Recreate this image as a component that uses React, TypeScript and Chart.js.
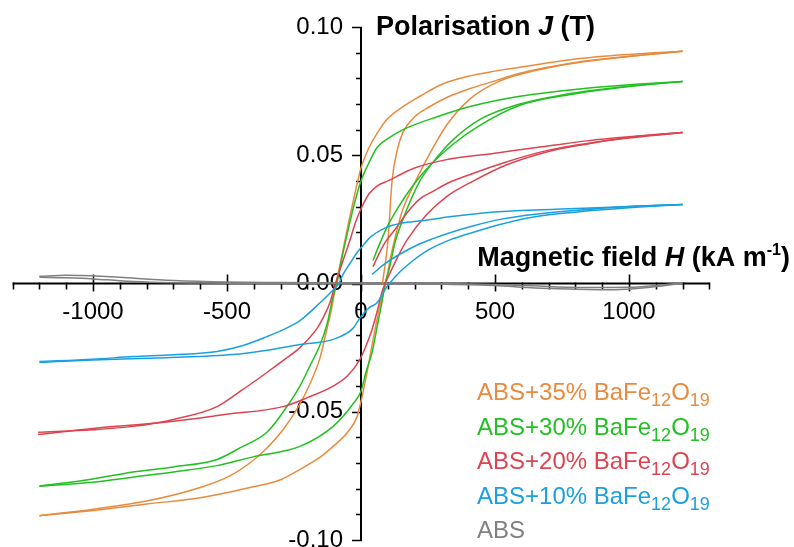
import React, { useEffect, useRef } from 'react';
import { Chart, registerables } from 'chart.js';

Chart.register(...registerables);

// ---- Axis ranges / ticks ----
const X_MIN = -1300;
const X_MAX = 1300;
const Y_MIN = -0.1;
const Y_MAX = 0.1;
const X_MINOR_STEP = 100;
const X_LABEL_STEP = 500;
const Y_MINOR_STEP = 0.01;
const Y_LABEL_STEP = 0.05;

// ---- Series colours ----
const COLORS = ['#E98B3F', '#22C022', '#DD4450', '#1AA0E0', '#808080'];

// ---- Legend labels: [text, isSubscript] runs ----
const LEGEND_35: [string, boolean][] = [['ABS+35% BaFe', false], ['12', true], ['O', false], ['19', true]];
const LEGEND_30: [string, boolean][] = [['ABS+30% BaFe', false], ['12', true], ['O', false], ['19', true]];
const LEGEND_20: [string, boolean][] = [['ABS+20% BaFe', false], ['12', true], ['O', false], ['19', true]];
const LEGEND_10: [string, boolean][] = [['ABS+10% BaFe', false], ['12', true], ['O', false], ['19', true]];
const LEGEND_ABS: [string, boolean][] = [['ABS', false]];

// ---- Data: [H (kA/m), J (T)] ----
// ABS + 35% BaFe12O19
const desc35: [number, number][] = [
  [1200, 0.0905], [1000, 0.0893], [800, 0.0875], [593, 0.0843], [500, 0.0828], [400, 0.0808], [300, 0.0776],
  [220, 0.073], [150, 0.0685], [97, 0.064], [60, 0.0585], [30, 0.053], [0, 0.045], [-25, 0.034], [-50, 0.022],
  [-75, 0.009], [-93, 0], [-110, -0.010], [-130, -0.019], [-153, -0.029], [-190, -0.039], [-228, -0.047],
  [-291, -0.057], [-350, -0.064], [-403, -0.069], [-489, -0.075], [-600, -0.0795], [-800, -0.0848],
  [-1000, -0.088], [-1200, -0.0905],
];
const asc35: [number, number][] = [
  [-1200, -0.0905], [-1000, -0.0885], [-800, -0.086], [-600, -0.0835], [-414, -0.0795], [-300, -0.0765],
  [-228, -0.0725], [-150, -0.0675], [-104, -0.0635], [-50, -0.058], [-15, -0.052], [0, -0.046], [20, -0.036],
  [45, -0.022], [70, -0.009], [92, 0], [110, 0.010], [130, 0.019], [153, 0.028], [190, 0.037], [228, 0.045],
  [280, 0.055], [321, 0.062], [407, 0.072], [519, 0.079], [650, 0.083], [800, 0.086], [1000, 0.0885],
  [1200, 0.0905],
];
const init35: [number, number][] = [
  [80, 0], [100, 0.016], [116, 0.040], [135, 0.052], [157, 0.059], [200, 0.065], [257, 0.069], [330, 0.073],
  [407, 0.076], [500, 0.079], [593, 0.082], [800, 0.0862], [1000, 0.0886], [1200, 0.0905],
];

// ABS + 30% BaFe12O19
const desc30: [number, number][] = [
  [1200, 0.0788], [1000, 0.0775], [850, 0.0762], [593, 0.073], [407, 0.069], [284, 0.065], [157, 0.060],
  [100, 0.0565], [60, 0.053], [34, 0.048], [0, 0.040], [-25, 0.031], [-50, 0.020], [-75, 0.008], [-90, 0],
  [-104, -0.005], [-127, -0.016], [-153, -0.024], [-190, -0.032], [-228, -0.040], [-290, -0.050],
  [-351, -0.058], [-450, -0.064], [-537, -0.0686], [-700, -0.0715], [-851, -0.0735], [-1000, -0.0762],
  [-1200, -0.079],
];
const asc30: [number, number][] = [
  [-1200, -0.079], [-1000, -0.0775], [-851, -0.0755], [-700, -0.0735], [-537, -0.071], [-400, -0.0675],
  [-228, -0.0635], [-104, -0.0557], [-30, -0.047], [0, -0.042], [20, -0.034], [41, -0.027], [60, -0.017],
  [82, -0.005], [90, 0], [104, 0.005], [127, 0.016], [160, 0.026], [220, 0.040], [290, 0.050], [343, 0.056],
  [444, 0.064], [593, 0.070], [750, 0.0735], [900, 0.0757], [1050, 0.0775], [1200, 0.0788],
];
const init30: [number, number][] = [
  [45, 0.009], [60, 0.013], [97, 0.022], [135, 0.029], [172, 0.035], [215, 0.041], [257, 0.046], [340, 0.054],
  [433, 0.061], [593, 0.0695], [800, 0.074], [1000, 0.0768], [1200, 0.0788],
];

// ABS + 20% BaFe12O19
const desc20: [number, number][] = [
  [1200, 0.0589], [1000, 0.0572], [850, 0.0557], [724, 0.054], [500, 0.0508], [306, 0.048], [200, 0.045],
  [157, 0.043], [100, 0.040], [60, 0.038], [30, 0.035], [4, 0.030], [-20, 0.024], [-41, 0.017], [-70, 0.008],
  [-95, 0], [-116, -0.0075], [-142, -0.0135], [-164, -0.0175], [-228, -0.025], [-290, -0.030], [-351, -0.0347],
  [-450, -0.042], [-537, -0.048], [-700, -0.053], [-851, -0.0557], [-1000, -0.057], [-1205, -0.058],
];
const asc20: [number, number][] = [
  [-1205, -0.0589], [-1000, -0.0565], [-724, -0.054], [-500, -0.051], [-291, -0.048], [-200, -0.0445],
  [-104, -0.040], [-50, -0.036], [-4, -0.0296], [20, -0.024], [41, -0.018], [60, -0.011], [78, -0.0035],
  [90, 0], [108, 0.004], [140, 0.011], [172, 0.017], [246, 0.027], [321, 0.034], [420, 0.040], [537, 0.046],
  [700, 0.0515], [851, 0.0545], [1000, 0.057], [1200, 0.0589],
];
const init20: [number, number][] = [
  [45, 0.0066], [60, 0.010], [90, 0.016], [134, 0.022], [175, 0.028], [220, 0.033], [270, 0.036],
  [321, 0.039], [420, 0.043], [530, 0.047], [700, 0.052], [900, 0.0555], [1200, 0.0589],
];

// ABS + 10% BaFe12O19
const desc10: [number, number][] = [
  [1200, 0.0308], [1000, 0.030], [724, 0.0289], [478, 0.0277], [332, 0.026], [228, 0.0245], [150, 0.0235],
  [97, 0.022], [34, 0.018], [4, 0.0144], [-15, 0.012], [-40, 0.008], [-70, 0.003], [-82, 0], [-104, -0.0025],
  [-153, -0.0075], [-228, -0.0145], [-290, -0.018], [-351, -0.0207], [-450, -0.0245], [-537, -0.0265],
  [-700, -0.0278], [-851, -0.0285], [-1000, -0.0295], [-1200, -0.0304],
];
const asc10: [number, number][] = [
  [-1200, -0.0308], [-1000, -0.0298], [-724, -0.0289], [-478, -0.0277], [-350, -0.026], [-228, -0.0238],
  [-104, -0.0218], [-30, -0.0175], [-4, -0.0135], [30, -0.0095], [60, -0.0075], [95, -0.0015], [110, 0.0005],
  [140, 0.004], [183, 0.008], [250, 0.013], [332, 0.017], [420, 0.020], [519, 0.023], [650, 0.026],
  [800, 0.0278], [1000, 0.0295], [1200, 0.0308],
];
const init10: [number, number][] = [
  [41, 0.0035], [80, 0.007], [146, 0.0115], [220, 0.0155], [269, 0.0175], [332, 0.0198], [420, 0.0225],
  [519, 0.025], [650, 0.027], [800, 0.0285], [1000, 0.030], [1200, 0.0308],
];

// ABS
const descAbs: [number, number][] = [
  [1200, 0.0002], [1100, -0.0008], [1000, -0.0015], [850, -0.0016], [700, -0.0012], [500, -0.0004],
  [300, 0], [0, 0.0002], [-300, 0.0004], [-500, 0.0006], [-700, 0.0012], [-900, 0.0024], [-1000, 0.003],
  [-1100, 0.0032], [-1200, 0.0028],
];
const ascAbs: [number, number][] = [
  [-1200, 0.0024], [-1100, 0.0022], [-1000, 0.0018], [-900, 0.0011], [-800, 0.0006], [-600, 0.0002],
  [-300, 0], [0, -0.0001], [300, -0.0003], [500, -0.0008], [650, -0.0018], [800, -0.0022], [950, -0.0024],
  [1050, -0.0018], [1150, -0.0006], [1200, 0.0002],
];

const FONT = "'Liberation Sans', Arial, Helvetica, sans-serif";

const SERIES: { color: string; branches: [number, number][][] }[] = [
  { color: COLORS[3], branches: [desc10, asc10, init10] },
  { color: COLORS[2], branches: [desc20, asc20, init20] },
  { color: COLORS[1], branches: [desc30, asc30, init30] },
  { color: COLORS[0], branches: [desc35, asc35, init35] },
  { color: COLORS[4], branches: [descAbs, ascAbs] },
];

const LEGEND = [
  { runs: LEGEND_35, color: COLORS[0] },
  { runs: LEGEND_30, color: COLORS[1] },
  { runs: LEGEND_20, color: COLORS[2] },
  { runs: LEGEND_10, color: COLORS[3] },
  { runs: LEGEND_ABS, color: COLORS[4] },
];

type Run = { t: string; font: string; dy: number };

function drawRuns(ctx: CanvasRenderingContext2D, x: number, y: number, runs: Run[], color: string, align: 'left' | 'right' = 'left') {
  ctx.save();
  ctx.fillStyle = color;
  ctx.textBaseline = 'alphabetic';
  ctx.textAlign = 'left';
  let total = 0;
  for (const r of runs) {
    ctx.font = r.font;
    total += ctx.measureText(r.t).width;
  }
  let cx = align === 'left' ? x : x - total;
  for (const r of runs) {
    ctx.font = r.font;
    ctx.fillText(r.t, cx, y + r.dy);
    cx += ctx.measureText(r.t).width;
  }
  ctx.restore();
}

function fmtY(v: number): string {
  const k = Math.round(v / Y_MINOR_STEP);
  if (k % Math.round(Y_LABEL_STEP / Y_MINOR_STEP) !== 0) return '';
  const val = k * Y_MINOR_STEP;
  return (Math.abs(val) < 1e-9 ? 0 : val).toFixed(2);
}

function fmtX(v: number): string {
  const r = Math.round(v);
  if (r % X_LABEL_STEP !== 0) return '';
  return String(r);
}

const decorPlugin = {
  id: 'decor',
  beforeDatasetsDraw(chart: any) {
    const ctx: CanvasRenderingContext2D = chart.ctx;
    const xs = chart.scales.x;
    const ys = chart.scales.y;
    const x0 = xs.getPixelForValue(0);
    const y0 = ys.getPixelForValue(0);
    ctx.save();
    // y tick labels (left of the y axis)
    ctx.fillStyle = '#000';
    ctx.font = `24px ${FONT}`;
    ctx.textAlign = 'right';
    ctx.textBaseline = 'middle';
    for (const t of ys.ticks) {
      const label = fmtY(t.value);
      if (label) ctx.fillText(label, x0 - 18, ys.getPixelForValue(t.value));
    }
    // axis lines
    ctx.strokeStyle = '#000';
    ctx.lineWidth = 2;
    ctx.beginPath();
    ctx.moveTo(xs.getPixelForValue(X_MIN), y0);
    ctx.lineTo(xs.getPixelForValue(X_MAX), y0);
    ctx.moveTo(x0, ys.getPixelForValue(Y_MAX));
    ctx.lineTo(x0, ys.getPixelForValue(Y_MIN));
    ctx.stroke();
    // tick marks
    ctx.lineWidth = 1.6;
    ctx.beginPath();
    const nx = Math.round((X_MAX - X_MIN) / X_MINOR_STEP);
    for (let i = 0; i <= nx; i++) {
      const v = X_MIN + i * X_MINOR_STEP;
      const px = Math.round(xs.getPixelForValue(v)) + 0.5;
      const major = Math.abs(v % X_LABEL_STEP) < 1e-6;
      if (major) {
        ctx.moveTo(px, y0 - 9);
        ctx.lineTo(px, y0 + 8);
      } else {
        ctx.moveTo(px, y0 - 1);
        ctx.lineTo(px, y0 + 6);
      }
    }
    const ny = Math.round((Y_MAX - Y_MIN) / Y_MINOR_STEP);
    for (let i = 0; i <= ny; i++) {
      const v = Y_MIN + i * Y_MINOR_STEP;
      const py = Math.round(ys.getPixelForValue(v)) + 0.5;
      const major = i % Math.round(Y_LABEL_STEP / Y_MINOR_STEP) === 0;
      ctx.moveTo(x0 - (major ? 9 : 5), py);
      ctx.lineTo(x0 + 1, py);
    }
    ctx.stroke();
    ctx.restore();
  },
  afterDraw(chart: any) {
    const ctx: CanvasRenderingContext2D = chart.ctx;
    const xs = chart.scales.x;
    const ys = chart.scales.y;
    const x0 = xs.getPixelForValue(0);
    const bold = `bold 27px ${FONT}`;
    const boldIt = `italic bold 27px ${FONT}`;
    // Y axis title
    drawRuns(ctx, x0 + 15, ys.getPixelForValue(Y_MAX) + 8, [
      { t: 'Polarisation ', font: bold, dy: 0 },
      { t: 'J', font: boldIt, dy: 0 },
      { t: ' (T)', font: bold, dy: 0 },
    ], '#000');
    // X axis title
    drawRuns(ctx, chart.width - 4, ys.getPixelForValue(0) - 18, [
      { t: 'Magnetic field ', font: bold, dy: 0 },
      { t: 'H', font: boldIt, dy: 0 },
      { t: ' (kA m', font: bold, dy: 0 },
      { t: '-1', font: `bold 16px ${FONT}`, dy: -11 },
      { t: ')', font: bold, dy: 0 },
    ], '#000', 'right');
    // Legend
    const lx = 477;
    const ly0 = 400;
    const lstep = 34.5;
    LEGEND.forEach((item, i) => {
      const runs: Run[] = item.runs.map(([t, sub]) => ({
        t,
        font: sub ? `18px ${FONT}` : `24px ${FONT}`,
        dy: sub ? 6 : 0,
      }));
      drawRuns(ctx, lx, ly0 + i * lstep, runs, item.color);
    });
  },
};

export default function App() {
  const ref = useRef<HTMLCanvasElement | null>(null);
  useEffect(() => {
    if (!ref.current) return;
    const datasets: any[] = [];
    SERIES.forEach((s) => {
      s.branches.forEach((b) => {
        datasets.push({
          data: b.map(([x, y]) => ({ x, y })),
          borderColor: s.color,
          backgroundColor: s.color,
          borderWidth: 1.5,
          pointRadius: 0,
          showLine: true,
          fill: false,
          cubicInterpolationMode: 'monotone',
        });
      });
    });
    const tickFont = { family: FONT, size: 24 };
    const chart = new Chart(ref.current, {
      type: 'scatter',
      data: { datasets },
      plugins: [decorPlugin],
      options: {
        animation: false,
        responsive: false,
        maintainAspectRatio: false,
        layout: { padding: { left: 12.6, right: 84.6, top: 27, bottom: 7 } },
        plugins: { legend: { display: false }, tooltip: { enabled: false } },
        scales: {
          x: {
            type: 'linear',
            min: X_MIN,
            max: X_MAX,
            position: { y: 0 },
            grid: { display: false, drawTicks: false },
            border: { display: false },
            ticks: {
              stepSize: X_MINOR_STEP,
              autoSkip: false,
              maxRotation: 0,
              minRotation: 0,
              padding: 14,
              color: '#000',
              font: tickFont,
              callback: (v: any) => fmtX(Number(v)),
            },
            afterFit: (s: any) => {
              s.paddingLeft = 0;
              s.paddingRight = 0;
            },
          },
          y: {
            type: 'linear',
            min: Y_MIN,
            max: Y_MAX,
            position: { x: 0 },
            grid: { display: false, drawTicks: false },
            border: { display: false },
            ticks: {
              display: false,
              stepSize: Y_MINOR_STEP,
              autoSkip: false,
              color: '#000',
              font: tickFont,
              callback: (v: any) => fmtY(Number(v)),
            },
            afterFit: (s: any) => {
              s.paddingTop = 0;
              s.paddingBottom = 0;
            },
          },
        },
      } as any,
    });
    return () => chart.destroy();
  }, []);
  return (
    <div style={{ position: 'fixed', left: 0, top: 0, width: 794, height: 547, background: '#fff' }}>
      <canvas ref={ref} width={794} height={547} style={{ display: 'block', width: 794, height: 547 }} />
    </div>
  );
}
